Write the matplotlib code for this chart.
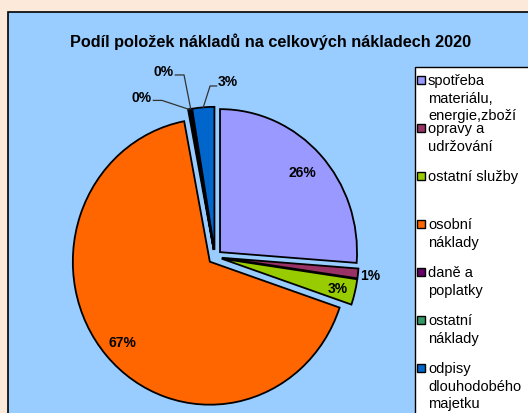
import numpy as np
import matplotlib
matplotlib.use("Agg")
import matplotlib.pyplot as plt
from matplotlib.patches import Rectangle

plt.rcParams['font.family'] = ['Liberation Sans', 'DejaVu Sans']

title = "Podíl položek nákladů na celkových nákladech 2020"
categories = ["spotřeba\nmateriálu,\nenergie,zboží", "opravy a\nudržování", "ostatní služby",
              "osobní\nnáklady", "daně a\npoplatky", "ostatní\nnáklady",
              "odpisy\ndlouhodobého\nmajetku"]
shares = [26.2, 1.1, 2.9, 66.8, 0.2, 0.2, 2.6]
pct_labels = ["26%", "1%", "3%", "67%", "0%", "0%", "3%"]
colors = ["#9999FF", "#993366", "#99CC00", "#FF6600", "#660066", "#339966", "#0066CC"]

W, H = 528, 414
fig = plt.figure(figsize=(W / 100, H / 100), dpi=100)
fig.patch.set_facecolor('#FDE9D9')


def fx(px):
    return px / W


def fy(py):
    return (H - py) / H


# chart area and legend frame (run off the right / bottom edge)
fig.add_artist(Rectangle((fx(8), -0.1), 1.0, fy(13) + 0.1, transform=fig.transFigure,
                         facecolor='#99CCFF', edgecolor='black', lw=1.2, zorder=-10))
fig.add_artist(Rectangle((fx(415), -0.1), 1.0, fy(68) + 0.1, transform=fig.transFigure,
                         facecolor='white', edgecolor='black', lw=1.0, zorder=-9))

fig.text(fx(271), fy(47), title, ha='center', va='baseline',
         fontsize=11.7, fontweight='bold')

# pie: centre at (215, 258) px, radii 137 x 143 px
cx, cy, rx, ry, lim = 215, 258, 137, 143, 1.3
ax = fig.add_axes([fx(cx - lim * rx), fy(cy + lim * ry), 2 * lim * rx / W, 2 * lim * ry / H])
ax.patch.set_visible(False)
wedges, _ = ax.pie(shares, colors=colors, explode=[0.05] * len(shares), startangle=90,
                   counterclock=False,
                   wedgeprops=dict(edgecolor='black', linewidth=1.3))
ax.set_aspect('auto')
ax.set_xlim(-lim, lim)
ax.set_ylim(-lim, lim)
ax.axis('off')

# labels inside / near the big slices
inner_dist = {0: 0.82, 1: 1.09, 2: 0.87, 3: 0.85}
for i, d in inner_dist.items():
    w = wedges[i]
    a = np.radians((w.theta1 + w.theta2) / 2)
    x = w.center[0] + d * np.cos(a)
    y = w.center[1] + d * np.sin(a)
    ax.text(x, y, pct_labels[i], ha='center', va='center', fontsize=10, fontweight='bold')

# labels with leader lines for the thin slices: (text x, text y, elbow x, elbow y, side)
leaders = {4: (-0.46, 1.119, -0.387, 1.095, 'right'),
           5: (-0.30, 1.300, -0.226, 1.273, 'right'),
           6: (0.022, 1.231, -0.036, 1.196, 'left')}
for i, (tx, ty, ex, ey, side) in leaders.items():
    w = wedges[i]
    a = np.radians((w.theta1 + w.theta2) / 2)
    x0 = w.center[0] + w.r * np.cos(a)
    y0 = w.center[1] + w.r * np.sin(a)
    end = tx + (0.01 if side == 'right' else -0.01)
    ax.plot([x0, ex, end], [y0, ey, ey], color='#333333', lw=0.9, clip_on=False)
    ax.text(tx, ty, pct_labels[i], ha=side, va='center', fontsize=10, fontweight='bold')

# legend: one square per entry, text lines placed one by one
for i, (lab, col) in enumerate(zip(categories, colors)):
    base = 85.5 + 48 * i
    fig.add_artist(Rectangle((fx(417), fy(base - 1)), 8 / W, 8 / H, transform=fig.transFigure,
                             facecolor=col, edgecolor='black', lw=1.0))
    for k, line in enumerate(lab.split("\n")):
        fig.text(fx(428), fy(base + 17.5 * k), line, ha='left', va='baseline', fontsize=10.5)

fig.savefig("out.png", dpi=100, facecolor=fig.get_facecolor())
